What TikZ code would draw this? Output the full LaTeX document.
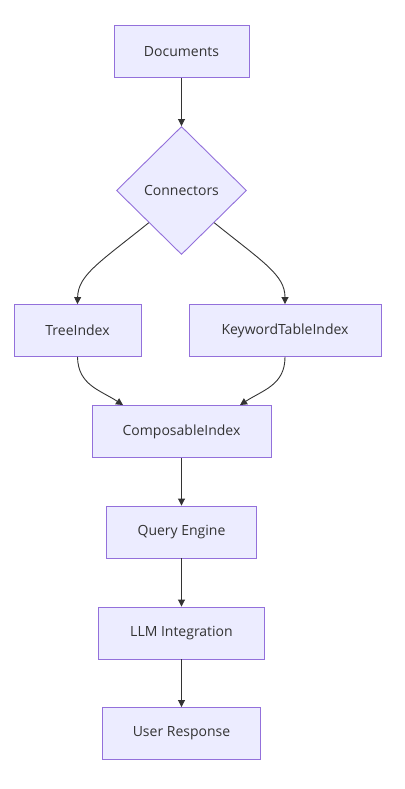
\documentclass[tikz,border=0pt]{standalone}
\usepackage{fontspec}
\setmainfont{Open Sans}
\usetikzlibrary{arrows.meta,shapes.geometric}

\definecolor{boxfill}{HTML}{ECECFF}
\definecolor{boxline}{HTML}{9370DB}
\definecolor{edge}{HTML}{333333}

\begin{document}
\begin{tikzpicture}[
    x=1pt, y=-1pt,
    font=\fontsize{14}{16}\selectfont, text=edge,
    box/.style={rectangle, fill=boxfill, draw=boxline, line width=0.9pt,
                minimum height=52pt, inner sep=0pt},
    decision/.style={diamond, fill=boxfill, draw=boxline, line width=0.9pt,
                     minimum width=130pt, minimum height=128pt, inner sep=0pt},
    flow/.style={draw=edge, line width=0.9pt, -{Triangle[length=7pt,width=7pt]}},
  ]
  \useasboundingbox (0,0) rectangle (404,789);

  % nodes, top to bottom
  \node[box, minimum width=135pt] (docs) at (181.5,51.5) {Documents};
  \node[decision] (conn) at (181.5,190.5) {Connectors};
  \node[box, minimum width=127pt] (tree) at (77.5,330.5) {TreeIndex};
  \node[box, minimum width=192pt] (kwt) at (285,330.5) {KeywordTableIndex};
  \node[box, minimum width=179pt] (comp) at (181.5,431.5) {ComposableIndex};
  \node[box, minimum width=150pt] (query) at (181.5,532) {Query Engine};
  \node[box, minimum width=166pt] (llm) at (181.5,633) {LLM Integration};
  \node[box, minimum width=158pt] (user) at (181.5,733.5) {User Response};

  % where the merging edges land on ComposableIndex
  \coordinate (compL) at ([xshift=-58.5pt]comp.north);
  \coordinate (compR) at ([xshift=58.5pt]comp.north);

  % connectors
  \draw[flow] (docs) -- (conn);
  \draw[flow] (conn.south west) .. controls (100,262) and (78,275) .. (tree.north);
  \draw[flow] (conn.south east) .. controls (263,262) and (285,275) .. (kwt.north);
  \draw[flow] (tree.south) .. controls (78,385) and (100,390) .. (compL);
  \draw[flow] (kwt.south) .. controls (285,385) and (263,390) .. (compR);
  \draw[flow] (comp) -- (query);
  \draw[flow] (query) -- (llm);
  \draw[flow] (llm) -- (user);
\end{tikzpicture}
\end{document}
